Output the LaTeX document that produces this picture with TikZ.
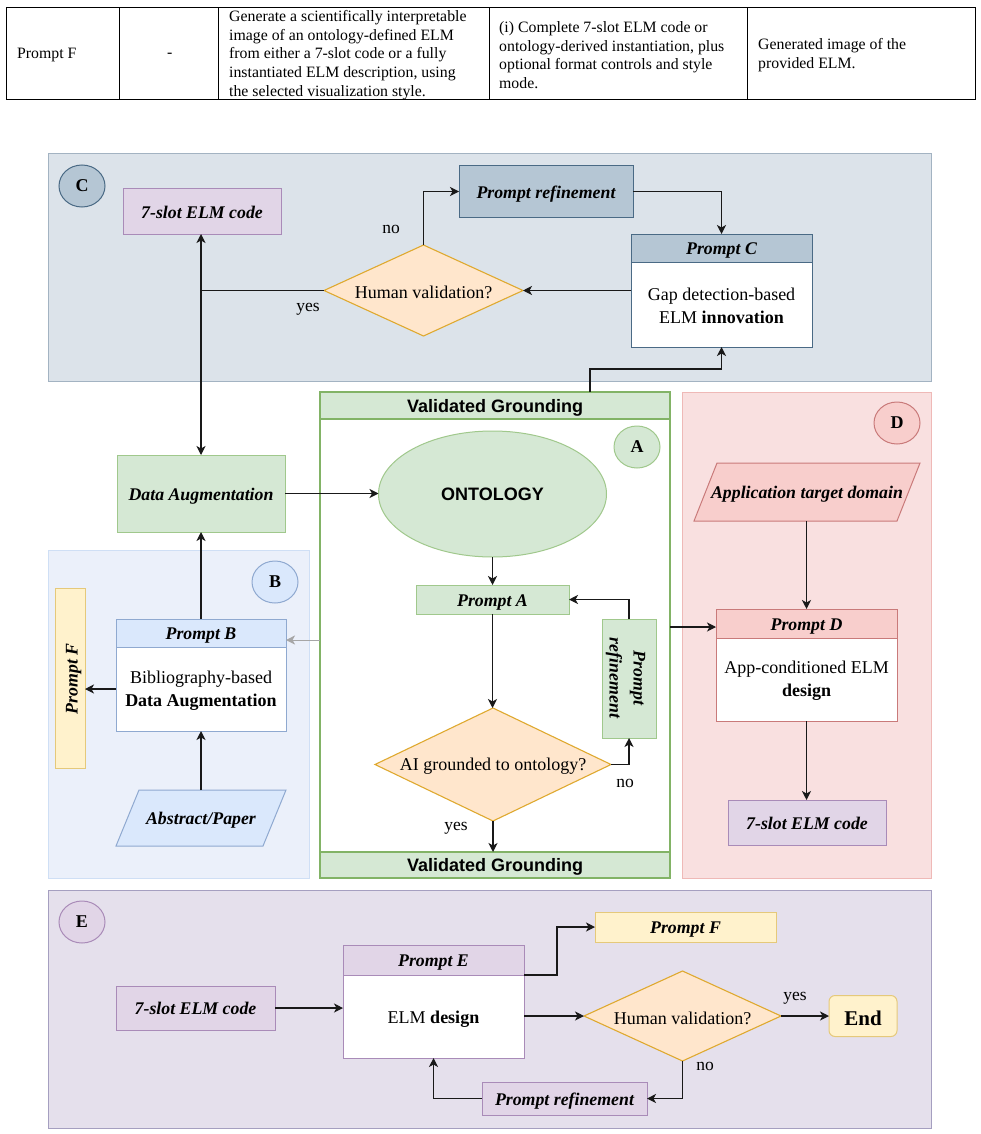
\documentclass[tikz,border=0pt]{standalone}
\usepackage{fontspec}
\setmainfont{Liberation Serif}
\newfontfamily\lsans{Liberation Sans}
\usetikzlibrary{arrows.meta,calc,shapes.geometric}
\definecolor{grn}{HTML}{D5E8D4}\definecolor{grnS}{HTML}{A0C88C}\definecolor{grnA}{HTML}{82B366}
\definecolor{blu}{HTML}{DAE8FC}\definecolor{bluS}{HTML}{8FA9D0}
\definecolor{red1}{HTML}{F8CECC}\definecolor{redS}{HTML}{C97A7A}
\definecolor{pur}{HTML}{E1D5E7}\definecolor{purS}{HTML}{A98BB8}
\definecolor{yel}{HTML}{FFF2CC}\definecolor{yelS}{HTML}{E5C97A}
\definecolor{org}{HTML}{FFE6CC}\definecolor{orgS}{HTML}{DFA92F}
\definecolor{slt}{HTML}{B5C6D4}\definecolor{sltS}{HTML}{4A6A85}
\definecolor{panC}{HTML}{DCE3EA}\definecolor{panCS}{HTML}{A3B3C2}
\definecolor{panB}{HTML}{EBF0FA}\definecolor{panBS}{HTML}{CFDFF5}
\definecolor{panD}{HTML}{F9E0E0}\definecolor{panDS}{HTML}{EFB9B7}
\definecolor{panE}{HTML}{E5E0EC}\definecolor{panES}{HTML}{A59FC0}
\tikzset{
 x=1pt,y=-1pt,
 base/.style={inner sep=0pt,outer sep=0pt,line width=1pt,align=center,font=\fontsize{18}{23}\selectfont},
 em/.style={font=\fontsize{17.8}{24}\selectfont\bfseries\itshape,text height=16pt,text depth=3pt},
 sanshead/.style={font=\lsans\fontsize{18}{21}\selectfont\bfseries},
 body/.style={base,fill=white},
 cell/.style={base,draw=black,line width=0.9pt,fill=white},
 celltext/.style={inner sep=0pt,align=left,anchor=west,font=\fontsize{15.8}{18.6}\selectfont},
 panel/.style={line width=1pt},
 conn/.style={line width=1.15pt,draw=black!90,-{Stealth[length=9pt,width=9pt,inset=2.5pt]}},
 both/.style={line width=1.15pt,draw=black!90,{Stealth[length=9pt,width=9pt,inset=2.5pt]}-{Stealth[length=9pt,width=9pt,inset=2.5pt]}},
 plain/.style={line width=1.15pt,draw=black!90},
 lab/.style={font=\fontsize{17.5}{20}\selectfont,inner sep=0pt},
}
\newcommand\bx[7]{% name x0 y0 x1 y1 style text
 \pgfmathsetmacro\cxx{(#2+#4)/2}\pgfmathsetmacro\cyy{(#3+#5)/2}
 \pgfmathsetmacro\www{#4-#2}\pgfmathsetmacro\hhh{#5-#3}
 \node[#6,minimum width=\www pt,minimum height=\hhh pt] (#1) at (\cxx,\cyy) {#7};}
\newcommand\dia[6]{% name x0 y0 x1 y1 text
 \pgfmathsetmacro\cxx{(#2+#4)/2}\pgfmathsetmacro\cyy{(#3+#5)/2}
 \pgfmathsetmacro\www{#4-#2}\pgfmathsetmacro\hhh{#5-#3}
 \path[fill=org,draw=orgS,line width=1.1pt] (#2,\cyy)--(\cxx,#3)--(#4,\cyy)--(\cxx,#5)--cycle;
 \node[base,minimum width=\www pt,minimum height=\hhh pt] (#1) at (\cxx,\cyy) {};
 \node[base] (#1t) at (\cxx,\cyy+2) {#6};}
\newcommand\para[8]{% name x0 y0 x1 y1 fill stroke text
 \pgfmathsetmacro\cxx{(#2+#4)/2}\pgfmathsetmacro\cyy{(#3+#5)/2}
 \pgfmathsetmacro\www{#4-#2}\pgfmathsetmacro\hhh{#5-#3}
 \pgfmathsetmacro\xa{#2+23}\pgfmathsetmacro\xb{#4-23}
 \path[fill=#6,draw=#7,line width=1pt] (\xa,#3)--(#4,#3)--(\xb,#5)--(#2,#5)--cycle;
 \node[base,em,minimum width=\www pt,minimum height=\hhh pt] (#1) at (\cxx,\cyy) {#8};}
\newcommand\tagc[6]{% name cx cy fill stroke letter
 \node[base,fill=#4,draw=#5,shape=ellipse,minimum width=46pt,minimum height=42pt,font=\fontsize{18}{20}\selectfont\bfseries] (#1) at (#2,#3) {#6};}
\begin{document}
\begin{tikzpicture}
\useasboundingbox (0,0) rectangle (981,1134);
\fill[white] (0,0) rectangle (981,1134);
% table
\bx{t1}{6}{7}{119}{99}{cell}{}
\bx{t2}{119}{7}{218}{99}{cell}{}
\bx{t3}{218}{7}{489}{99}{cell}{}
\bx{t4}{489}{7}{747}{99}{cell}{}
\bx{t5}{747}{7}{975}{99}{cell}{}
\node[celltext] (tt1) at (17,55.5) {Prompt F};
\node[celltext] (tt2) at (167,55.5) {-};
\node[celltext] (tt3) at (229,55) {Generate a scientifically interpretable\\image of an ontology-defined ELM\\from either a 7-slot code or a fully\\instantiated ELM description, using\\the selected visualization style.};
\node[celltext] (tt4) at (499,55) {(i) Complete 7-slot ELM code or\\ontology-derived instantiation, plus\\optional format controls and style\\mode.};
\node[celltext] (tt5) at (758,55) {Generated image of the\\provided ELM.};
% panels
\bx{panelC}{48}{154}{931}{381}{panel,fill=panC,draw=panCS}{}
\bx{panelB}{48}{550}{309}{878}{panel,fill=panB,draw=panBS}{}
\bx{panelD}{682}{392}{931}{878}{panel,fill=panD,draw=panDS}{}
\bx{panelE}{48}{890}{931}{1128}{panel,fill=panE,draw=panES}{}
\bx{panelA}{320}{392}{670}{878}{fill=white,draw=grnA,line width=2.4pt,inner sep=0pt,outer sep=0pt}{}
% panel C
\tagc{tagC}{82}{186}{slt}{sltS}{C}
\bx{slotC}{123}{189}{281}{234}{base,em,fill=pur,draw=purS}{7-slot ELM code}
\bx{refC}{459}{166}{633}{217}{base,em,fill=slt,draw=sltS}{Prompt refinement}
\bx{bodyC}{631}{262}{812}{347}{body,draw=sltS}{}
\node[base] (bodyCt) at (721.5,306) {Gap detection-based\\ELM \textbf{innovation}};
\bx{headC}{631}{234}{812}{262}{base,em,fill=slt,draw=sltS}{Prompt C}
\dia{humC}{324}{245}{523}{336}{Human validation?}
\node[lab] (lnoC) at (391,229) {no};
\node[lab] (lyesC) at (308,309) {yes};
% panel A
\bx{vgTop}{320}{392}{670}{419}{base,sanshead,text height=16pt,text depth=3pt,fill=grn,draw=grnA,line width=2.4pt}{Validated Grounding}
\bx{vgBot}{320}{852}{670}{878}{base,sanshead,text height=16pt,text depth=3pt,fill=grn,draw=grnA,line width=2.4pt}{Validated Grounding}
\tagc{tagA}{637}{447}{grn}{grnS}{A}
\node[base,sanshead,fill=grn,draw=grnS,shape=ellipse,minimum width=228pt,minimum height=126pt] (onto) at (492.5,494) {ONTOLOGY};
\bx{promptA}{416}{585}{569}{614}{base,em,fill=grn,draw=grnS}{Prompt A}
\bx{refA}{602}{619}{656}{738}{base,fill=grn,draw=grnS}{}
\node[base,font=\fontsize{17.8}{24}\selectfont\bfseries\itshape,rotate=-90] (refAt) at (625.5,678) {Prompt\\refinement};
\dia{aiQ}{375}{708}{611}{821}{AI grounded to ontology?}
\node[lab] (lnoA) at (625,783) {no};
\node[lab] (lyesA) at (456,828) {yes};
% left column
\bx{dataAug}{117}{455}{285}{532}{base,em,fill=grn,draw=grnS}{Data Augmentation}
\tagc{tagB}{275}{582}{blu}{bluS}{B}
\bx{bodyB}{116}{647}{286}{731}{body,draw=bluS}{}
\node[base] (bodyBt) at (201,691) {Bibliography-based\\\textbf{Data Augmentation}};
\bx{headB}{116}{619}{286}{647}{base,em,fill=blu,draw=bluS}{Prompt B}
\bx{promptFv}{55}{588}{85}{768}{base,fill=yel,draw=yelS}{}
\node[base,em,rotate=90] (promptFvt) at (71,679) {Prompt F};
\para{abst}{116}{790}{286}{846}{blu}{bluS}{Abstract/Paper}
% panel D
\tagc{tagD}{897}{423}{red1}{redS}{D}
\para{appl}{694}{463}{920}{521}{red1}{redS}{Application target domain}
\bx{bodyD}{716}{638}{897}{721}{body,draw=redS}{}
\node[base] (bodyDt) at (806.5,681) {App-conditioned ELM\\\textbf{design}};
\bx{headD}{716}{609}{897}{638}{base,em,fill=red1,draw=redS}{Prompt D}
\bx{slotD}{728}{800}{886}{845}{base,em,fill=pur,draw=purS}{7-slot ELM code}
% panel E
\tagc{tagE}{82}{922}{pur}{purS}{E}
\bx{slotE}{116}{986}{275}{1030}{base,em,fill=pur,draw=purS}{7-slot ELM code}
\bx{bodyE}{343}{975}{524}{1058}{body,draw=purS}{}
\node[base] (bodyEt) at (433.5,1019) {ELM \textbf{design}};
\bx{headE}{343}{945}{524}{975}{base,em,fill=pur,draw=purS}{Prompt E}
\bx{promptFh}{595}{912}{776}{942}{base,em,fill=yel,draw=yelS}{Prompt F}
\dia{humE}{584}{971}{781}{1061}{Human validation?}
\node[base,rounded corners=6pt,fill=yel,draw=yelS,minimum width=68pt,minimum height=41pt,text height=18pt,text depth=0pt,font=\fontsize{21}{24}\selectfont\bfseries] (endN) at (863,1016) {End};
\bx{refE}{482}{1082}{647}{1115}{base,em,fill=pur,draw=purS}{Prompt refinement}
\node[lab] (lyesE) at (795,998) {yes};
\node[lab] (lnoE) at (705,1066) {no};
% connectors
\draw[both] (dataAug.north |- slotC.south) -- (dataAug.north);
\draw[plain] (humC.west) -- (humC.west -| dataAug.north);
\draw[conn] (humC.north) |- (refC.west);
\draw[conn] (refC.east) -| (headC.north);
\draw[conn] (humC.east -| bodyC.west) -- (humC.east);
\coordinate (vgOut) at (590,392);
\coordinate (vgTurn) at (590,369);
\draw[conn] (vgOut) -- (vgTurn) -| (bodyC.south);
\draw[conn] (dataAug.east) -- (dataAug.east -| onto.west);
\draw[conn] (onto.south) -- (promptA.north);
\draw[conn] (promptA.south) -- (promptA.south |- aiQ.north);
\draw[conn] (aiQ.east) -| (refA.south);
\draw[conn] (refA.north) |- (promptA.east);
\draw[conn] (aiQ.south) -- (aiQ.south |- vgBot.north);
\coordinate (aOutD) at (670,627);
\draw[conn] (aOutD) -- (aOutD -| headD.west);
\coordinate (aOutB) at (320,640);
\draw[conn,line width=0.5pt,draw=black!35] (aOutB) -- (aOutB -| headB.east);
\draw[conn] (headB.north) -- (dataAug.south);
\coordinate (bOutF) at (116,689);
\draw[conn] (bOutF) -- (bOutF -| promptFv.east);
\draw[conn] (abst.north) -- (bodyB.south);
\draw[conn] (headD.north |- appl.south) -- (headD.north);
\draw[conn] (bodyD.south) -- (bodyD.south |- slotD.north);
\draw[conn] (slotE.east) -- (slotE.east -| bodyE.west);
\coordinate (eOutF) at (524,975);
\coordinate (eTurn) at (557,975);
\draw[conn] (eOutF) -- (eTurn) |- (promptFh.west);
\draw[conn] (humE.west -| bodyE.east) -- (humE.west);
\draw[conn] (humE.east) -- (endN.west);
\draw[conn] (humE.south) |- (refE.east);
\draw[conn] (refE.west) -| (bodyE.south);
\end{tikzpicture}
\end{document}
